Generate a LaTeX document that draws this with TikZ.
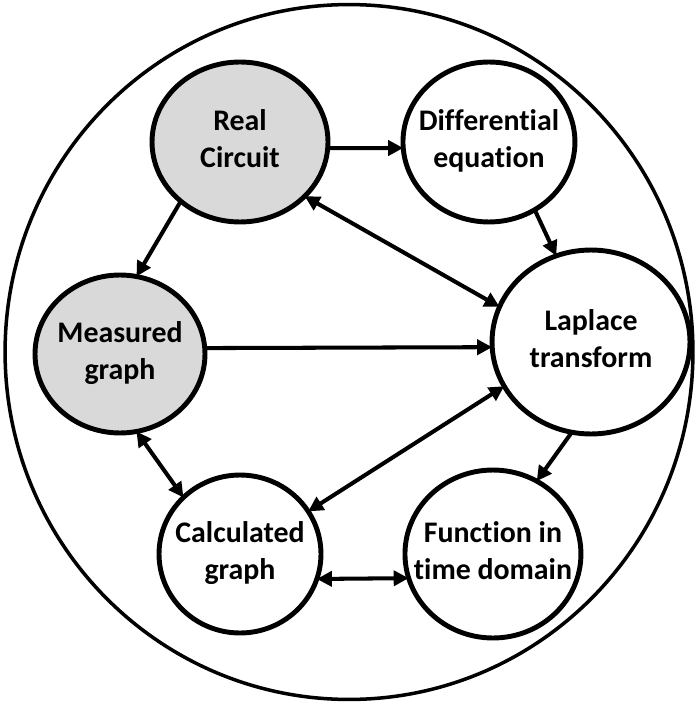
\documentclass[tikz,border=0pt]{standalone}
\usepackage{fontspec}
\setmainfont{Carlito}[Ligatures={NoCommon}]
\usetikzlibrary{positioning, shapes.geometric, arrows.meta}
\definecolor{shade}{HTML}{D9D9D9}
\newcommand{\bubbletext}[1]{\makebox[0pt]{\begin{tabular}{@{}c@{}}#1\end{tabular}}}

\begin{document}
\begin{tikzpicture}[x=0.02cm, y=-0.02cm,
  every node/.style={font=\bfseries\fontsize{17}{21}\selectfont},
  bubble/.style={draw, ellipse, line width=2.8pt, inner sep=0pt, outer sep=0pt},
  link/.style={line width=2.3pt, -{Triangle[length=3mm, width=3mm]}},
  both/.style={line width=2.3pt, {Triangle[length=3mm, width=3mm]}-{Triangle[length=3mm, width=3mm]}}]
  \useasboundingbox (0,0) rectangle (695,705);
  \node[draw, ellipse, line width=2pt, minimum width=13.76cm, minimum height=13.9cm] (frame) at (349,352) {};
  \node[bubble, fill=shade, minimum width=3.52cm, minimum height=3.2cm] (real) at (240,142) {\bubbletext{Real\\Circuit}};
  \node[bubble, right=1.5cm of real, minimum width=3.44cm, minimum height=3.2cm] (diff) {\bubbletext{Differential\\equation}};
  \node[bubble, fill=shade, minimum width=3.4cm, minimum height=3.16cm] (meas) at (120,354) {\bubbletext{Measured\\graph}};
  \node[bubble, minimum width=3.96cm, minimum height=3.68cm] (lap) at (591,342) {\bubbletext{Laplace\\transform}};
  \node[bubble, minimum width=3.24cm, minimum height=3.16cm] (calc) at (240,554) {\bubbletext{Calculated\\graph}};
  \node[bubble, right=1.68cm of calc, minimum width=3.52cm, minimum height=3.36cm] (func) {\bubbletext{Function in\\time domain}};
  \draw[link] (real.356) -- (diff.184);
  \draw[link] (real.225) -- (meas.78);
  \draw[both] (real.320) -- (lap.159);
  \draw[link] (diff.304) -- (lap.112);
  \draw[link] (meas.4) -- (lap.183);
  \draw[both] (meas.282) -- (calc.135);
  \draw[both] (lap.207) -- (calc.32);
  \draw[link] (lap.258) -- (func.59);
  \draw[both] (calc.342) -- (func.196);
\end{tikzpicture}
\end{document}
